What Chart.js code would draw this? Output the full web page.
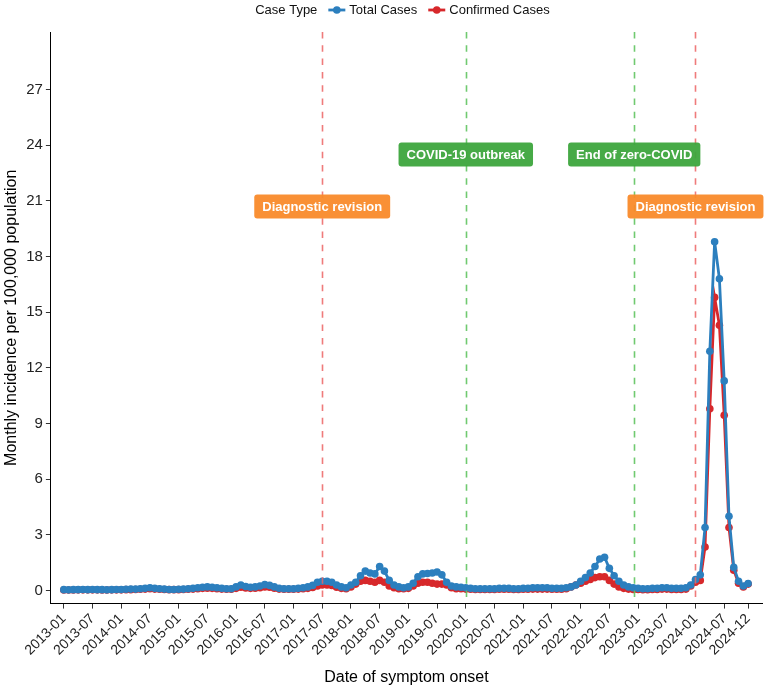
<!DOCTYPE html>
<html>
<head>
<meta charset="utf-8">
<script src="https://cdn.jsdelivr.net/npm/chart.js@4.4.1/dist/chart.umd.min.js"></script>
<style>
html, body { margin: 0; padding: 0; background: #fff; }
#wrap { width: 767px; height: 689px; }
</style>
</head>
<body>
<div id="wrap"><canvas id="line-chart" width="767" height="689"></canvas></div>
<script>
// monthly incidence per 100,000, month index 0 = 2013-01 ... 143 = 2024-12
var totalCases = [
    0.05, 0.04, 0.05, 0.05, 0.06, 0.05, 0.06, 0.05, 0.05, 0.04, 0.05, 0.06,   // 2013
    0.06, 0.07, 0.08, 0.08, 0.10, 0.12, 0.15, 0.12, 0.10, 0.08, 0.06, 0.06,   // 2014
    0.07, 0.08, 0.10, 0.12, 0.15, 0.18, 0.20, 0.18, 0.15, 0.12, 0.10, 0.10,   // 2015
    0.20, 0.30, 0.22, 0.18, 0.20, 0.25, 0.32, 0.28, 0.20, 0.12, 0.10, 0.10,   // 2016
    0.10, 0.12, 0.15, 0.20, 0.28, 0.45, 0.50, 0.50, 0.45, 0.30, 0.20, 0.15,   // 2017
    0.30, 0.45, 0.80, 1.05, 0.95, 0.90, 1.30, 1.05, 0.55, 0.30, 0.20, 0.15,   // 2018
    0.20, 0.40, 0.75, 0.90, 0.92, 0.95, 1.00, 0.85, 0.45, 0.25, 0.20, 0.18,   // 2019
    0.15, 0.12, 0.10, 0.10, 0.10, 0.10, 0.10, 0.12, 0.12, 0.12, 0.10, 0.10,   // 2020
    0.12, 0.12, 0.15, 0.15, 0.15, 0.15, 0.12, 0.12, 0.12, 0.15, 0.20, 0.30,   // 2021
    0.50, 0.70, 0.95, 1.30, 1.70, 1.80, 1.20, 0.80, 0.50, 0.30, 0.20, 0.15,   // 2022
    0.12, 0.10, 0.10, 0.12, 0.12, 0.15, 0.15, 0.12, 0.12, 0.12, 0.15, 0.30,   // 2023
    0.60, 0.85, 3.40, 12.9, 18.8, 16.8, 11.3, 4.00, 1.25, 0.50, 0.25, 0.38    // 2024
];
var confirmedCases = [
    0.03, 0.03, 0.03, 0.04, 0.04, 0.04, 0.04, 0.04, 0.03, 0.03, 0.04, 0.04,   // 2013
    0.04, 0.05, 0.05, 0.06, 0.07, 0.08, 0.10, 0.08, 0.07, 0.06, 0.05, 0.05,   // 2014
    0.05, 0.06, 0.07, 0.08, 0.10, 0.12, 0.13, 0.12, 0.10, 0.08, 0.07, 0.07,   // 2015
    0.12, 0.18, 0.14, 0.12, 0.13, 0.16, 0.20, 0.18, 0.13, 0.08, 0.07, 0.07,   // 2016
    0.07, 0.08, 0.10, 0.12, 0.17, 0.25, 0.30, 0.30, 0.28, 0.18, 0.12, 0.10,   // 2017
    0.20, 0.35, 0.50, 0.55, 0.50, 0.45, 0.55, 0.45, 0.25, 0.15, 0.10, 0.10,   // 2018
    0.12, 0.25, 0.40, 0.45, 0.45, 0.40, 0.35, 0.35, 0.30, 0.15, 0.10, 0.10,   // 2019
    0.08, 0.07, 0.06, 0.06, 0.06, 0.06, 0.06, 0.07, 0.07, 0.07, 0.06, 0.06,   // 2020
    0.07, 0.07, 0.08, 0.08, 0.08, 0.08, 0.07, 0.07, 0.07, 0.10, 0.20, 0.30,   // 2021
    0.40, 0.50, 0.60, 0.70, 0.75, 0.75, 0.55, 0.35, 0.20, 0.12, 0.08, 0.06,   // 2022
    0.06, 0.05, 0.05, 0.06, 0.06, 0.08, 0.08, 0.06, 0.06, 0.06, 0.08, 0.25,   // 2023
    0.45, 0.55, 2.35, 9.80, 15.8, 14.3, 9.45, 3.40, 1.10, 0.40, 0.20, 0.35    // 2024
];
var tickMonths = [0, 6, 12, 18, 24, 30, 36, 42, 48, 54, 60, 66, 72, 78, 84, 90, 96, 102, 108, 114, 120, 126, 132, 138, 143];
var tickLabels = ['2013-01', '2013-07', '2014-01', '2014-07', '2015-01', '2015-07', '2016-01', '2016-07',
    '2017-01', '2017-07', '2018-01', '2018-07', '2019-01', '2019-07', '2020-01', '2020-07', '2021-01',
    '2021-07', '2022-01', '2022-07', '2023-01', '2023-07', '2024-01', '2024-07', '2024-12'];
var yTicks = [0, 3, 6, 9, 12, 15, 18, 21, 24, 27];
// events: month index of each reference line and its label
var eventMonths = [54, 84, 119.2, 132];
var eventLabels = ['Diagnostic revision', 'COVID-19 outbreak', 'End of zero-COVID', 'Diagnostic revision'];
var eventKinds = ['rev', 'covid', 'covid', 'rev'];

var FONT = '"Liberation Sans", Arial, sans-serif';
var BLUE = '#2C7FBE', RED = '#D7282B';
var dashColor = { rev: 'rgba(236,100,100,0.85)', covid: 'rgba(96,196,96,0.9)' };
var boxColor = { rev: '#F98A2A', covid: '#3DA53D' };
var labelLevel = { rev: 20.7, covid: 23.5 };

function roundRect(ctx, x, y, w, h, r) {
    ctx.beginPath();
    ctx.moveTo(x + r, y);
    ctx.lineTo(x + w - r, y);
    ctx.quadraticCurveTo(x + w, y, x + w, y + r);
    ctx.lineTo(x + w, y + h - r);
    ctx.quadraticCurveTo(x + w, y + h, x + w - r, y + h);
    ctx.lineTo(x + r, y + h);
    ctx.quadraticCurveTo(x, y + h, x, y + h - r);
    ctx.lineTo(x, y + r);
    ctx.quadraticCurveTo(x, y, x + r, y);
    ctx.closePath();
}

var eventsPlugin = {
    id: 'events',
    afterDatasetsDraw: function(chart) {
        var ctx = chart.ctx, xs = chart.scales.x, ys = chart.scales.y, area = chart.chartArea;
        ctx.save();
        // dashed reference lines
        eventMonths.forEach(function(m, i) {
            var px = Math.round(xs.getPixelForValue(m)) + 0.5;
            ctx.strokeStyle = dashColor[eventKinds[i]];
            ctx.lineWidth = 1.6;
            ctx.setLineDash([6.5, 6.8]);
            ctx.beginPath();
            ctx.moveTo(px, area.top);
            ctx.lineTo(px, area.bottom);
            ctx.stroke();
        });
        ctx.setLineDash([]);
        // label boxes
        ctx.font = 'bold 13px ' + FONT;
        ctx.textAlign = 'center';
        ctx.textBaseline = 'middle';
        eventMonths.forEach(function(m, i) {
            var kind = eventKinds[i];
            var px = xs.getPixelForValue(m);
            var py = ys.getPixelForValue(labelLevel[kind]);
            var w = ctx.measureText(eventLabels[i]).width + 16;
            var h = 24;
            ctx.fillStyle = boxColor[kind];
            ctx.globalAlpha = 0.95;
            roundRect(ctx, px - w / 2, py - h / 2, w, h, 3);
            ctx.fill();
            ctx.globalAlpha = 1;
            ctx.fillStyle = '#fff';
            ctx.fillText(eventLabels[i], px, py + 1);
        });
        ctx.restore();
    },
    afterDraw: function(chart) {
        // legend: "Case Type" + two keys, centred over the plot
        var ctx = chart.ctx, area = chart.chartArea;
        var items = [{ text: 'Total Cases', color: BLUE }, { text: 'Confirmed Cases', color: RED }];
        ctx.save();
        ctx.font = '13px ' + FONT;
        ctx.textBaseline = 'middle';
        ctx.textAlign = 'left';
        var keyW = 17, gap = 11;
        var total = ctx.measureText('Case Type').width;
        items.forEach(function(it) { total += gap + keyW + 4 + ctx.measureText(it.text).width; });
        var x = (area.left + area.right) / 2 - total / 2 - 4, y = 10;
        ctx.fillStyle = '#111';
        ctx.fillText('Case Type', x, y);
        x += ctx.measureText('Case Type').width + gap;
        items.forEach(function(it) {
            ctx.strokeStyle = it.color;
            ctx.lineWidth = 2.8;
            ctx.beginPath();
            ctx.moveTo(x, y);
            ctx.lineTo(x + keyW, y);
            ctx.stroke();
            ctx.fillStyle = it.color;
            ctx.beginPath();
            ctx.arc(x + keyW / 2, y, 3.8, 0, Math.PI * 2);
            ctx.fill();
            x += keyW + 4;
            ctx.fillStyle = '#111';
            ctx.fillText(it.text, x, y);
            x += ctx.measureText(it.text).width + gap;
        });
        ctx.restore();
    }
};

function toPoints(arr) {
    return arr.map(function(v, i) { return { x: i, y: v }; });
}

var ctx = document.getElementById('line-chart');
var chart = new Chart(ctx, {
    type: 'line',
    data: {
        datasets: [
            {
                label: 'Total Cases',
                data: toPoints(totalCases),
                borderColor: BLUE,
                backgroundColor: BLUE,
                pointBackgroundColor: BLUE
            },
            {
                label: 'Confirmed Cases',
                data: toPoints(confirmedCases),
                borderColor: RED,
                backgroundColor: RED,
                pointBackgroundColor: RED
            }
        ]
    },
    options: {
        responsive: false,
        animation: false,
        layout: { padding: { top: 32, right: 5, left: 0, bottom: 2 } },
        elements: {
            line: { borderWidth: 2.8, tension: 0 },
            point: { radius: 3.8, borderWidth: 0, hoverRadius: 3.8 }
        },
        plugins: {
            legend: { display: false },
            tooltip: { enabled: false }
        },
        scales: {
            x: {
                type: 'linear',
                min: -2.7,
                max: 145.9,
                afterBuildTicks: function(axis) {
                    axis.ticks = tickMonths.map(function(v) { return { value: v }; });
                },
                ticks: {
                    autoSkip: false,
                    minRotation: 45,
                    maxRotation: 45,
                    color: '#222',
                    padding: 2,
                    font: { size: 14, family: FONT },
                    callback: function(v) {
                        var k = tickMonths.indexOf(v);
                        return k >= 0 ? tickLabels[k] : '';
                    }
                },
                grid: { drawOnChartArea: false, drawTicks: true, tickLength: 5, color: '#333' },
                border: { display: true, color: '#000', width: 1 },
                title: {
                    display: true,
                    text: 'Date of symptom onset',
                    color: '#000',
                    font: { size: 16, family: FONT },
                    padding: { top: 7, bottom: 0 }
                }
            },
            y: {
                min: -0.7,
                max: 30.1,
                afterBuildTicks: function(axis) {
                    axis.ticks = yTicks.map(function(v) { return { value: v }; });
                },
                ticks: {
                    color: '#222',
                    padding: 3,
                    font: { size: 15, family: FONT }
                },
                grid: { drawOnChartArea: false, drawTicks: true, tickLength: 5, color: '#333' },
                border: { display: true, color: '#000', width: 1 },
                title: {
                    display: true,
                    text: 'Monthly incidence per 100,000 population',
                    color: '#000',
                    font: { size: 16, family: FONT },
                    padding: { top: 2, bottom: 2 }
                }
            }
        }
    },
    plugins: [eventsPlugin]
});
</script>
</body>
</html>
